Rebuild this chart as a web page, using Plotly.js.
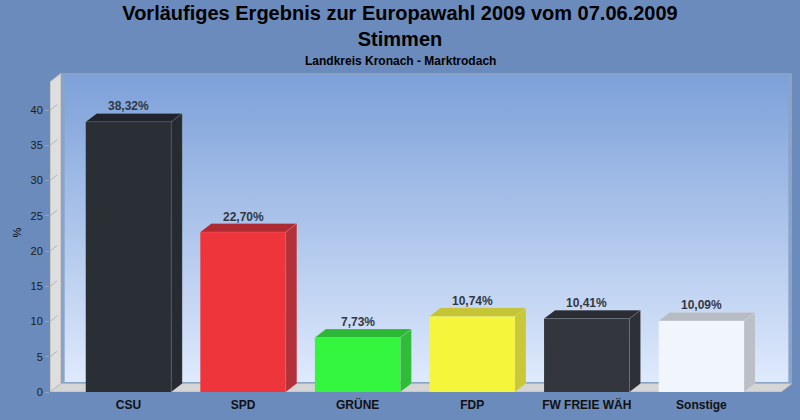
<!DOCTYPE html>
<html><head><meta charset="utf-8">
<script src="https://cdn.plot.ly/plotly-3.0.1.min.js"></script>
<style>html,body{margin:0;padding:0;background:#6b8bbc;}#chart{width:800px;height:420px;}</style>
</head><body><div id="chart"></div>
<script>
// ---- data ----
const categories = ['CSU', 'SPD', 'GRÜNE', 'FDP', 'FW FREIE WÄH', 'Sonstige'];
const values = [38.32, 22.70, 7.73, 10.74, 10.41, 10.09];
const valueLabels = ['38,32%', '22,70%', '7,73%', '10,74%', '10,41%', '10,09%'];
const yTickVals = [0, 5, 10, 15, 20, 25, 30, 35, 40];
const yTickText = ['0', '5', '10', '15', '20', '25', '30', '35', '40'];

// ---- style ----
const frontColors = ['#2a2e35', '#ef353c', '#35f63f', '#f5f53c', '#33363c', '#f1f5fc'];
const topColors   = ['#1f232b', '#ae2b33', '#2cb835', '#c4c435', '#2a2d33', '#b7bbc3'];
const sideColors  = ['#262a31', '#b3313a', '#30bc39', '#c8c839', '#2d3036', '#bbbfc6'];
const FONT = 'Liberation Sans, Arial, sans-serif';
const DX = 0.096, DY = 1.2, BW = 0.746;
const XL = -0.685, XR = 5.695, WALL_TOP = 44;

const xs = categories.map((c, i) => i);
const shapes = [];
const P = (x, y) => x + ',' + y;

// left wall
shapes.push({type:'path', layer:'below', xref:'x', yref:'y',
  path:'M' + P(XL,0) + 'L' + P(XL,WALL_TOP) + 'L' + P(XL+DX,WALL_TOP+DY) + 'L' + P(XL+DX,DY) + 'Z',
  fillcolor:'#dedede', line:{color:'#b8b8b8', width:1}});
// floor
shapes.push({type:'path', layer:'below', xref:'x', yref:'y',
  path:'M' + P(XL,0) + 'L' + P(XR,0) + 'L' + P(XR+DX,DY) + 'L' + P(XL+DX,DY) + 'Z',
  fillcolor:'#d5d5d5', line:{color:'#bdbdbd', width:1}});
// gridlines
yTickVals.slice(1).forEach(t => {
  shapes.push({type:'line', layer:'below', xref:'x', yref:'y', x0:XL, y0:t, x1:XL+DX, y1:t+DY,
    line:{color:'rgba(170,170,170,0.8)', width:1, dash:'dash'}});
  shapes.push({type:'line', layer:'below', xref:'x', yref:'y', x0:XL+DX, y0:t+DY, x1:XR+DX, y1:t+DY,
    line:{color:'rgba(225,232,245,0.45)', width:1, dash:'dash'}});
});
// bar top & side faces
xs.forEach((x, i) => {
  const v = values[i], x0 = x - BW/2, x1 = x + BW/2;
  shapes.push({type:'path', layer:'above', xref:'x', yref:'y',
    path:'M' + P(x0,v) + 'L' + P(x1,v) + 'L' + P(x1+DX,v+DY) + 'L' + P(x0+DX,v+DY) + 'Z',
    fillcolor:topColors[i], line:{color:'rgba(255,255,255,0.12)', width:1}});
  shapes.push({type:'path', layer:'above', xref:'x', yref:'y',
    path:'M' + P(x1,0) + 'L' + P(x1,v) + 'L' + P(x1+DX,v+DY) + 'L' + P(x1+DX,DY) + 'Z',
    fillcolor:sideColors[i], line:{color:'rgba(255,255,255,0.12)', width:1}});
});

const annotations = xs.map((x, i) => ({
  x: x, y: values[i] + DY, xref:'x', yref:'y', text: '<b>' + valueLabels[i] + '</b>',
  showarrow:false, yanchor:'bottom', yshift:-2, font:{family:FONT, size:12, color:'#313844'}
}));
annotations.push({x:0.4717, y:1.0376, xref:'paper', yref:'paper', showarrow:false,
  text:'<b>Landkreis Kronach - Marktrodach</b>', yanchor:'middle',
  font:{family:FONT, size:12, color:'#000'}});

const grad = "<svg xmlns='http://www.w3.org/2000/svg' width='100' height='100' preserveAspectRatio='none'>" +
  "<defs><linearGradient id='g' x1='0' y1='0' x2='0' y2='1'><stop offset='0' stop-color='#7ca0d9'/>" +
  "<stop offset='1' stop-color='#dfeafd'/></linearGradient></defs>" +
  "<rect width='100' height='100' fill='url(#g)' stroke='#8aa3c8' stroke-width='1'/></svg>";

const trace = {
  type:'bar', x: xs, y: values, width: BW, hoverinfo:'skip',
  marker:{color: frontColors, line:{width:0}}
};

const layout = {
  width:800, height:420,
  paper_bgcolor:'#6b8bbc', plot_bgcolor:'rgba(0,0,0,0)',
  margin:{l:50, r:8, t:73, b:28},
  showlegend:false,
  title:{text:'<b>Vorläufiges Ergebnis zur Europawahl 2009 vom 07.06.2009<br>Stimmen</b>',
    font:{family:FONT, size:20, color:'#000'}, xref:'container', x:0.5,
    yref:'container', y:0.952, yanchor:'top'},
  xaxis:{range:[XL, XR+DX], tickvals: xs, ticktext: categories.map(c => '<b>' + c + '</b>'),
    showgrid:false, zeroline:false, showline:false, ticks:'', fixedrange:true, ticklabelstandoff:4,
    tickfont:{family:FONT, size:12, color:'#111'}},
  yaxis:{range:[0, 45.25], tickvals: yTickVals, ticktext: yTickText,
    showgrid:false, zeroline:false, showline:false, ticks:'outside', ticklen:4, tickcolor:'#9aa6b8',
    tickfont:{family:FONT, size:11, color:'#1a1a1a'},
    title:{text:'%', standoff:6, font:{family:FONT, size:11, color:'#000'}}},
  images:[{source:'data:image/svg+xml;charset=utf-8,' + encodeURIComponent(grad),
    xref:'x', yref:'y', x: XL+DX, y: WALL_TOP+DY, sizex: XR-XL, sizey: WALL_TOP,
    xanchor:'left', yanchor:'top', sizing:'stretch', layer:'below'}],
  shapes: shapes, annotations: annotations
};

Plotly.newPlot('chart', [trace], layout, {displayModeBar:false, staticPlot:true});
</script></body></html>
